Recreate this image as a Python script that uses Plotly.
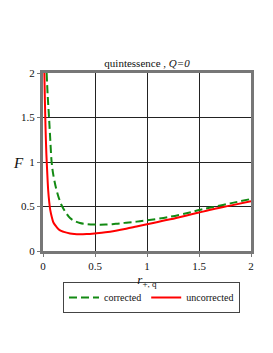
import plotly.graph_objects as go

# Uncorrected (red, solid)
r_uncorr = [0.013, 0.018, 0.024, 0.032, 0.04, 0.05, 0.06, 0.07, 0.085, 0.1, 0.13, 0.16, 0.2, 0.26, 0.3,
            0.355, 0.42, 0.5, 0.6, 0.7, 0.8, 0.9, 1.0, 1.2, 1.4, 1.5, 1.6, 1.8, 2.0]
F_uncorr = [2.0, 1.7, 1.4, 1.1, 0.9, 0.68, 0.55, 0.46, 0.38, 0.32, 0.27, 0.235, 0.215, 0.197, 0.19,
            0.187, 0.19, 0.198, 0.21, 0.228, 0.25, 0.275, 0.3, 0.35, 0.405, 0.432, 0.46, 0.51, 0.56]

# Corrected (green, dashed)
r_corr = [0.035, 0.045, 0.058, 0.07, 0.083, 0.1, 0.13, 0.16, 0.185, 0.22, 0.26, 0.3, 0.355, 0.42, 0.5,
          0.55, 0.6, 0.7, 0.8, 0.9, 1.0, 1.2, 1.4, 1.5, 1.6, 1.8, 2.0]
F_corr = [2.0, 1.75, 1.5, 1.25, 1.0, 0.85, 0.685, 0.57, 0.5, 0.43, 0.37, 0.34, 0.315, 0.303, 0.297,
          0.296, 0.297, 0.305, 0.318, 0.33, 0.345, 0.38, 0.43, 0.46, 0.485, 0.535, 0.585]

x_ticks = [0, 0.5, 1, 1.5, 2]
x_tick_labels = ["0", "0.5", "1", "1.5", "2"]
y_ticks = [0, 0.5, 1, 1.5, 2]
y_tick_labels = ["0", "0.5", "1", "1.5", "2"]

font_family = "Liberation Serif, Times New Roman, serif"

# page offset (body margin) compensation
OFF = 8
W, H = 273 - OFF, 353 - OFF
PL, PR, PT, PB = 43 - OFF, 251 - OFF, 73 - OFF, 251 - OFF  # plot box in figure px
PW, PH = PR - PL, PB - PT


def px_x(x):
    return (x - OFF - PL) / PW


def px_y(y):
    return (PB - (y - OFF)) / PH


fig = go.Figure()
fig.add_trace(go.Scatter(x=r_corr, y=F_corr, mode="lines", name="corrected",
                         line=dict(color="#138a13", width=2, dash="8px,4px", shape="spline")))
fig.add_trace(go.Scatter(x=r_uncorr, y=F_uncorr, mode="lines", name="uncorrected",
                         line=dict(color="#ff0000", width=2, shape="spline")))

axis_common = dict(
    showgrid=True, gridcolor="#222222", gridwidth=1,
    zeroline=False, showline=True, linecolor="#777777", linewidth=3, mirror=True,
    ticks="outside", ticklen=3, tickcolor="#777777",
    tickfont=dict(family=font_family, size=11, color="#111111"),
)

fig.update_xaxes(range=[0, 2], tickvals=x_ticks, ticktext=x_tick_labels,
                 title=dict(text="<i>r</i><sub>+, q</sub>", standoff=4,
                            font=dict(family=font_family, size=13)),
                 **axis_common)
fig.update_yaxes(range=[0, 2], tickvals=y_ticks, ticktext=y_tick_labels, **axis_common)

fig.update_layout(
    width=W, height=H,
    margin=dict(l=PL, r=W - PR, t=PT, b=H - PB, autoexpand=False),
    paper_bgcolor="white", plot_bgcolor="white",
    font=dict(family=font_family, color="#111111"),
    title=dict(text="quintessence , <i>Q=0</i>", x=(147 - OFF) / W, xanchor="center",
               y=1 - (63 - OFF) / H, yanchor="middle", yref="container",
               font=dict(family=font_family, size=11)),
    showlegend=True,
    legend=dict(orientation="h", x=px_x(63), xanchor="left", y=px_y(282), yanchor="top",
                bordercolor="#444444", borderwidth=1, bgcolor="white",
                font=dict(family=font_family, size=10),
                itemwidth=30, tracegroupgap=0),
)
fig.add_annotation(text="<i>F</i>", x=px_x(18), y=px_y(163), xref="paper", yref="paper",
                   showarrow=False, xanchor="center", yanchor="middle",
                   font=dict(family=font_family, size=15))

fig.write_html("out.html")
